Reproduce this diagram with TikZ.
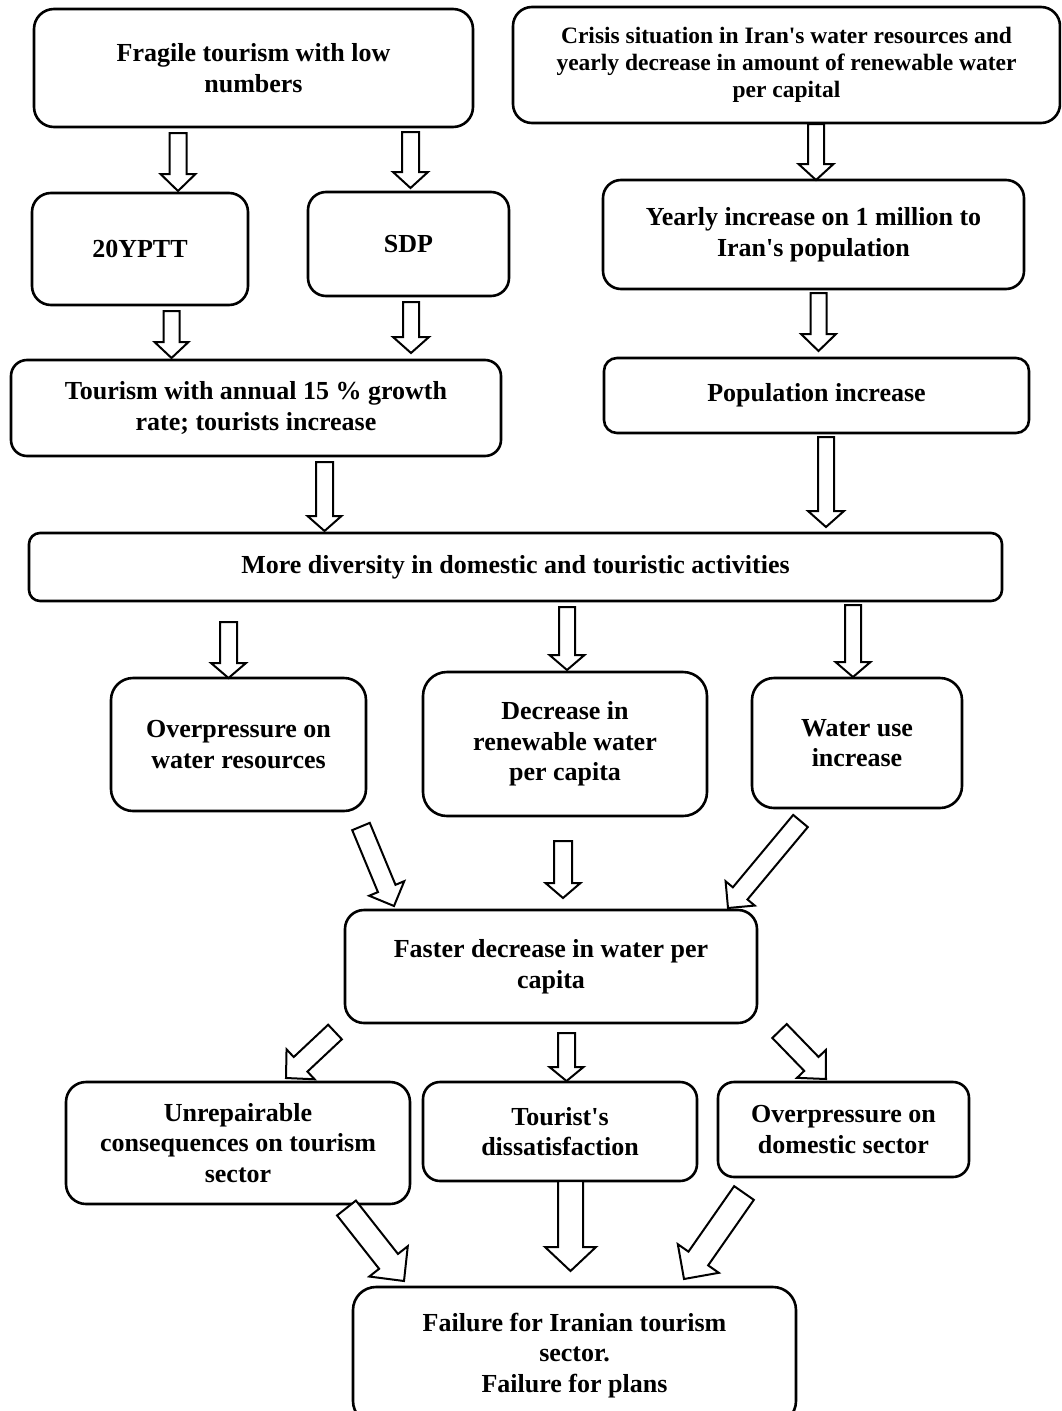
\documentclass[tikz,border=0pt]{standalone}
\usepackage{fontspec}
\setmainfont{Liberation Serif}
\usetikzlibrary{calc}
\newcommand\apos{\textquotesingle}
\tikzset{
  box/.style={draw, line width=2.6pt, align=center, inner sep=0pt,
    font=\bfseries\fontsize{26}{30.5}\selectfont},
  barrow/.style={draw, line width=2pt, fill=white, line join=miter},
}
\newcommand\boxnode[8][]{%
  \pgfmathsetmacro\bxw{#5-#3}\pgfmathsetmacro\bxh{#6-#4}%
  \pgfmathsetmacro\bxx{(#3+#5)/2}\pgfmathsetmacro\bxy{(#4+#6)/2}%
  \node[box, rounded corners=#7pt, minimum width=\bxw pt, minimum height=\bxh pt, #1] (#2) at (\bxx,\bxy) {#8};}
% #1 start, #2 tip, #3 half shaft, #4 half head, #5 head length
\newcommand\barr[5]{%
  \coordinate (bac) at ($(#2)!#5pt!(#1)$);
  \draw[barrow] ($(#1)!#3pt!90:(#2)$) -- ($(bac)!#3pt!90:(#2)$) -- ($(bac)!#4pt!90:(#2)$) -- (#2)
    -- ($(bac)!#4pt!-90:(#2)$) -- ($(bac)!#3pt!-90:(#2)$) -- ($(#1)!#3pt!-90:(#2)$) -- cycle;}
\begin{document}
\begin{tikzpicture}[x=1pt,y=-1pt]
\useasboundingbox (0,0) rectangle (1061,1411);
\clip (0,0) rectangle (1061,1411);
% boxes
\boxnode{frag}{34}{9}{473}{127}{20}{Fragile tourism with low\\numbers}
\boxnode[font=\bfseries\fontsize{23.5}{27}\selectfont]{crisis}{513}{7}{1060}{123}{19}{Crisis situation in Iran\apos s water resources and\\yearly decrease in amount of renewable water\\per capital}
\boxnode{ypt}{32}{193}{248}{305}{19}{20YPTT}
\boxnode{sdp}{308}{192}{509}{296}{18}{SDP}
\boxnode{yearly}{603}{180}{1024}{289}{18}{Yearly increase on 1 million to\\Iran\apos s population}
\boxnode{tour}{11}{360}{501}{456}{16}{Tourism with annual 15 \% growth\\rate; tourists increase}
\boxnode{pop}{604}{358}{1029}{433}{13}{Population increase}
\boxnode{div}{29}{533}{1002}{601}{11}{More diversity in domestic and touristic activities}
\boxnode{overp}{111}{678}{366}{811}{22}{Overpressure on\\water resources}
\boxnode{dec}{423}{672}{707}{816}{24}{Decrease in\\renewable water\\per capita}
\boxnode{water}{752}{678}{962}{808}{22}{Water use\\increase}
\boxnode{faster}{345}{910}{757}{1023}{19}{Faster decrease in water per\\capita}
\boxnode{unrep}{66}{1082}{410}{1204}{20}{Unrepairable\\consequences on tourism\\sector}
\boxnode{tourist}{423}{1082}{697}{1181}{17}{Tourist\apos s\\dissatisfaction}
\boxnode{dom}{718}{1082}{969}{1177}{16}{Overpressure on\\domestic sector}
\boxnode{fail}{353}{1287}{796}{1424}{23}{Failure for Iranian tourism\\sector.\\Failure for plans}
% arrow end points
\coordinate (s1) at (178,133);     \coordinate (t1) at (178,191);
\coordinate (s2) at (410.5,132);   \coordinate (t2) at (410.5,188);
\coordinate (s3) at (171.5,311);   \coordinate (t3) at (171.5,358);
\coordinate (s4) at (411,302);     \coordinate (t4) at (411,353);
\coordinate (s5) at (816,124);     \coordinate (t5) at (816,180);
\coordinate (s6) at (818.5,293);   \coordinate (t6) at (818.5,351);
\coordinate (s7) at (826,437);     \coordinate (t7) at (826,527);
\coordinate (s8) at (324.5,462);   \coordinate (t8) at (324.5,531);
\coordinate (s9) at (228.5,622);   \coordinate (t9) at (228.5,678);
\coordinate (s10) at (567,607);    \coordinate (t10) at (567,670);
\coordinate (s11) at (853,605);    \coordinate (t11) at (853,677);
\coordinate (s12) at (361,826.5);  \coordinate (t12) at (394,906);
\coordinate (s13) at (563,841);    \coordinate (t13) at (563,898);
\coordinate (s14) at (800.5,821);  \coordinate (t14) at (728,908);
\coordinate (s15) at (335,1032);   \coordinate (t15) at (286,1078);
\coordinate (s16) at (566.5,1033); \coordinate (t16) at (566.5,1081);
\coordinate (s17) at (779.5,1031); \coordinate (t17) at (826,1079);
\coordinate (s18) at (346.5,1208); \coordinate (t18) at (404,1281);
\coordinate (s19) at (570.5,1181); \coordinate (t19) at (570.5,1271);
\coordinate (s20) at (744,1193);   \coordinate (t20) at (684,1279);
% arrows
\barr{s1}{t1}{8.5}{17.5}{17}
\barr{s2}{t2}{8.5}{17.5}{16}
\barr{s3}{t3}{8}{17}{16}
\barr{s4}{t4}{8}{18}{16}
\barr{s5}{t5}{8}{17.5}{16}
\barr{s6}{t6}{8}{17.5}{17}
\barr{s7}{t7}{8}{18}{16}
\barr{s8}{t8}{8.5}{17}{15}
\barr{s9}{t9}{8.5}{17.5}{15}
\barr{s10}{t10}{8}{17.5}{15}
\barr{s11}{t11}{8}{17.5}{15}
\barr{s12}{t12}{9.5}{19}{19}
\barr{s13}{t13}{9}{17.5}{15}
\barr{s14}{t14}{9.5}{19}{19}
\barr{s15}{t15}{10}{20.5}{20}
\barr{s16}{t16}{8.5}{17}{14}
\barr{s17}{t17}{10}{20}{21}
\barr{s18}{t18}{12}{24.5}{25}
\barr{s19}{t19}{12.5}{25.5}{24}
\barr{s20}{t20}{12}{25}{25}
\end{tikzpicture}
\end{document}
